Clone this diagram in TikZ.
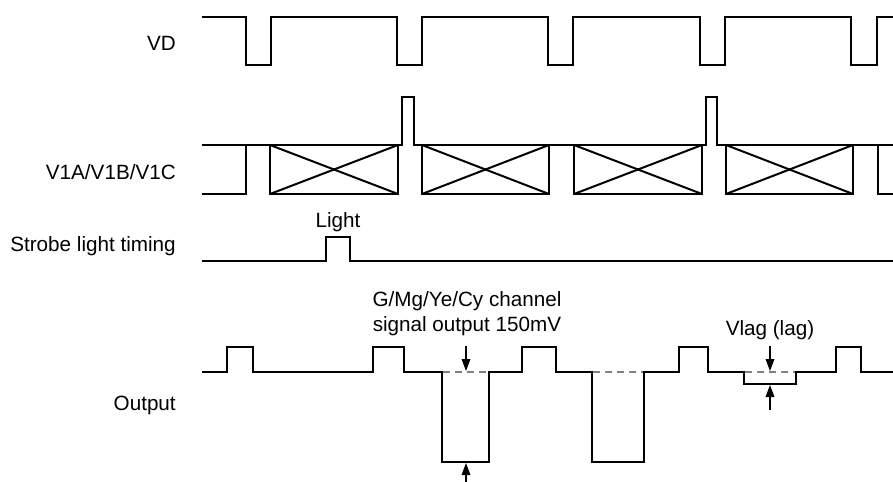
\documentclass[tikz,border=0pt]{standalone}
\usepackage{fontspec}
\setmainfont{Liberation Sans}
\usetikzlibrary{arrows.meta}
\begin{document}
\begin{tikzpicture}[x=0.75pt,y=-0.75pt,
  sig/.style={line width=1.5pt,line join=miter},
  xbox/.style={line width=1.5pt},
  dsh/.style={line width=1.2pt,gray,dash pattern=on 5pt off 4pt},
  meas/.style={line width=0.9pt,-{Triangle[width=6.5pt,length=9pt]}},
  lbl/.style={font=\fontsize{15.5pt}{18.8pt}\selectfont,inner sep=0pt},
  rowlbl/.style={lbl,anchor=east}]
\useasboundingbox (0,0) rectangle (893,482);

% row labels
\node[rowlbl] (lvd) at (176,43) {VD};
\node[rowlbl] (lv1) at (176,172) {V1A/V1B/V1C};
\node[rowlbl] (lst) at (176,246) {Strobe light timing};
\node[rowlbl] (lout) at (176,405) {Output};

% VD
\draw[sig] (202,17) -- (246,17) -- (246,65) -- (271,65) -- (271,17) -- (397,17) -- (397,65) -- (422,65) -- (422,17)
  -- (548,17) -- (548,65) -- (573,65) -- (573,17) -- (700,17) -- (700,65) -- (725,65) -- (725,17)
  -- (851,17) -- (851,65) -- (877,65) -- (877,17) -- (893,17);

% V1A/V1B/V1C
\draw[sig] (202,194) -- (246,194) -- (246,145);
\draw[sig] (202,145) -- (402,145) -- (402,97) -- (414,97) -- (414,145) -- (706,145) -- (706,97) -- (717,97) -- (717,145) -- (893,145);
\draw[sig] (878,145) -- (878,194) -- (893,194);
\foreach \a/\b in {270/398, 422/549, 574/702, 726/853}{
  \draw[xbox] (\a,145) rectangle (\b,194);
  \draw[xbox] (\a,145) -- (\b,194);
  \draw[xbox] (\a,194) -- (\b,145);
}

% Strobe
\draw[sig] (202,261) -- (326,261) -- (326,237) -- (350,237) -- (350,261) -- (893,261);
\node[lbl] (light) at (338,222) {Light};

% Output
\draw[sig] (202,372) -- (227,372) -- (227,347) -- (253,347) -- (253,372) -- (373,372) -- (373,347) -- (404,347) -- (404,372)
  -- (442,372) -- (442,462) -- (489,462) -- (489,372) -- (522,372) -- (522,347) -- (556,347) -- (556,372)
  -- (592,372) -- (592,462) -- (644,462) -- (644,372) -- (679,372) -- (679,347) -- (708,347) -- (708,372)
  -- (744,372) -- (744,384) -- (796,384) -- (796,372) -- (836,372) -- (836,347) -- (861,347) -- (861,372) -- (893,372);
\draw[dsh] (443,372) -- (488,372);
\draw[dsh] (593,372) -- (643,372);
\draw[dsh] (745,372) -- (795,372);

% measurement arrows
\coordinate (a1s) at (466,346);
\coordinate (a1e) at (466,371);
\coordinate (a2s) at (466,482);
\coordinate (a2e) at (466,463);
\coordinate (a3s) at (770,346);
\coordinate (a3e) at (770,371);
\coordinate (a4s) at (770,410);
\coordinate (a4e) at (770,385);
\draw[meas] (a1s) -- (a1e);
\draw[meas] (a2s) -- (a2e);
\draw[meas] (a3s) -- (a3e);
\draw[meas] (a4s) -- (a4e);

\node[lbl,align=center] (gm) at (467,314) {G/Mg/Ye/Cy channel\\signal output 150mV};
\node[lbl] (vlag) at (770,330) {Vlag (lag)};
\end{tikzpicture}
\end{document}
